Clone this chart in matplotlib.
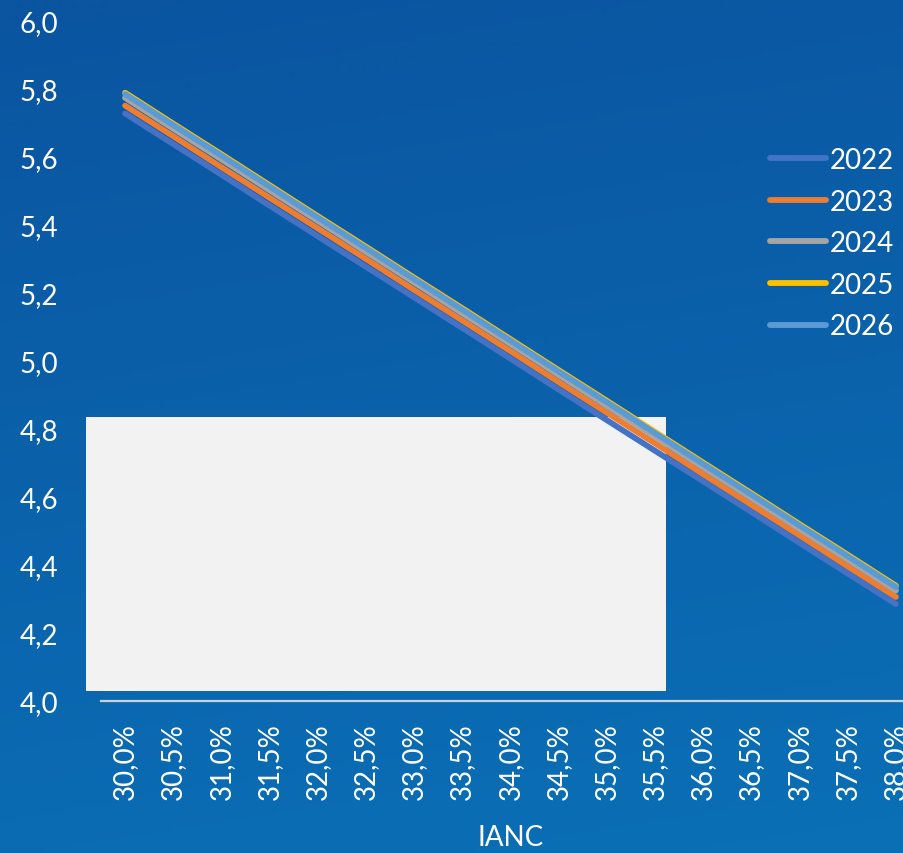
import numpy as np
import matplotlib
matplotlib.use("Agg")
import matplotlib.pyplot as plt
from matplotlib.patches import Rectangle

plt.rcParams['font.family'] = ['Lato', 'DejaVu Sans']

categories = ["30,0%", "30,5%", "31,0%", "31,5%", "32,0%", "32,5%", "33,0%", "33,5%", "34,0%",
              "34,5%", "35,0%", "35,5%", "36,0%", "36,5%", "37,0%", "37,5%", "38,0%"]
y2022 = [5.728, 5.638, 5.548, 5.457, 5.367, 5.277, 5.187, 5.097, 5.007,
         4.916, 4.826, 4.736, 4.646, 4.556, 4.465, 4.375, 4.285]
y2023 = [5.751, 5.661, 5.570, 5.480, 5.390, 5.300, 5.209, 5.119, 5.029,
         4.938, 4.848, 4.758, 4.667, 4.577, 4.487, 4.396, 4.306]
y2024 = [5.774, 5.683, 5.593, 5.502, 5.412, 5.321, 5.231, 5.140, 5.050,
         4.959, 4.868, 4.778, 4.687, 4.597, 4.506, 4.416, 4.325]
y2025 = [5.789, 5.698, 5.608, 5.517, 5.426, 5.336, 5.245, 5.155, 5.064,
         4.973, 4.883, 4.792, 4.701, 4.611, 4.520, 4.430, 4.339]
y2026 = [5.785, 5.694, 5.604, 5.513, 5.422, 5.332, 5.241, 5.151, 5.060,
         4.969, 4.879, 4.788, 4.697, 4.607, 4.516, 4.426, 4.335]
series = [("2022", y2022, "#4472c4"), ("2023", y2023, "#ed7d31"), ("2024", y2024, "#a5a5a5"),
          ("2025", y2025, "#ffc000"), ("2026", y2026, "#5b9bd5")]

W, H = 904, 854
fig = plt.figure(figsize=(W / 100, H / 100), dpi=100)

# blue gradient background
bg = fig.add_axes([0, 0, 1, 1])
gy = np.linspace(0, 1, 200)[:, None]
gx = np.linspace(0, 1, 200)[None, :]
top = np.array([10, 84, 160]) / 255
bot = np.array([10, 112, 182]) / 255
t = np.clip(gy * 0.85 + gx * 0.15, 0, 1)[..., None]
img = top * (1 - t) + bot * t
bg.imshow(img, aspect='auto', extent=[0, 1, 0, 1], origin='upper')
bg.axis('off')

# light box behind the lines
fig.patches.append(Rectangle((86 / W, 1 - 692 / H), (666 - 86) / W, (692 - 418) / H,
                             transform=fig.transFigure, facecolor='#f2f2f2', edgecolor='none', zorder=1))

ax = fig.add_axes([101 / W, 152 / H, (920 - 101) / W, 680 / H], zorder=2)
ax.patch.set_alpha(0)
x = np.arange(len(categories))
for name, vals, col in series:
    ax.plot(x, vals, color=col, lw=4.2, solid_capstyle='round', label=name)

ax.set_xlim(-0.5, len(categories) - 0.5)
ax.set_ylim(4.0, 6.0)
ax.set_yticks(np.arange(4.0, 6.01, 0.2))
ax.set_yticklabels([f"{v:.1f}".replace('.', ',') for v in np.arange(4.0, 6.01, 0.2)])
ax.set_xticks(x)
ax.set_xticklabels(categories, rotation=90)
ax.tick_params(colors='white', labelsize=20, length=0)
ax.tick_params(axis='y', pad=31)
ax.tick_params(axis='x', pad=15)
for s in ['top', 'right', 'left']:
    ax.spines[s].set_visible(False)
ax.spines['bottom'].set_color('#c8d3e0')
ax.spines['bottom'].set_linewidth(1.6)
ax.set_xlabel("IANC", color='white', fontsize=20, labelpad=18)

leg = ax.legend(loc='upper left', bbox_to_anchor=((770 - 101) / (920 - 101), (702 - 148) / 680),
                frameon=False, fontsize=20, labelcolor='white', handlelength=2.0,
                handletextpad=0.15, labelspacing=0.56, borderaxespad=0, borderpad=0)

fig.savefig("out.png", dpi=100)
